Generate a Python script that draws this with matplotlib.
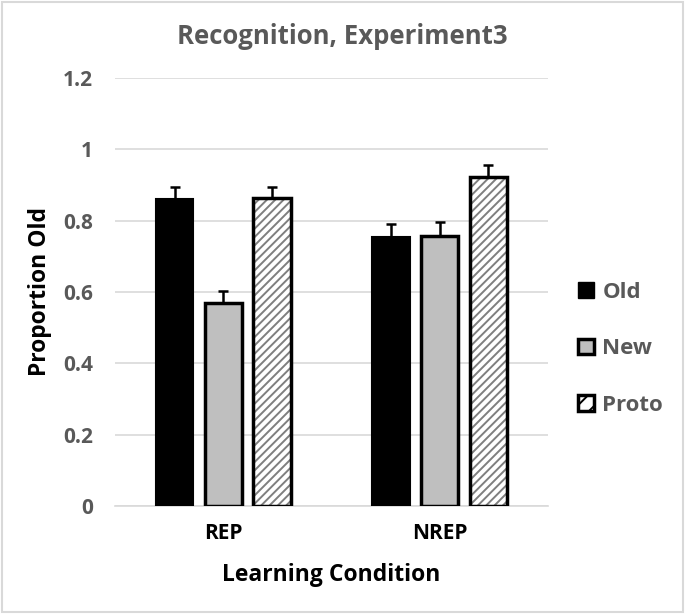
import numpy as np
import matplotlib
matplotlib.use("Agg")
import matplotlib.pyplot as plt
from matplotlib.patches import Patch, Rectangle

# datos
categorias = ["REP", "NREP"]
series = ["Old", "New", "Proto"]
old_vals = [0.861, 0.754]
new_vals = [0.569, 0.757]
proto_vals = [0.864, 0.922]
old_err = [0.033, 0.036]
new_err = [0.034, 0.038]
proto_err = [0.030, 0.034]

gris_txt = "#595959"
plt.rcParams['font.family'] = ['Open Sans', 'DejaVu Sans']
plt.rcParams['font.weight'] = 'bold'
plt.rcParams['hatch.linewidth'] = 1.4
plt.rcParams['hatch.color'] = '#7f7f7f'

fig = plt.figure(figsize=(6.85, 6.14), dpi=100)
ax = fig.add_axes([0.168, 0.176, 0.632, 0.697])

x = np.arange(len(categorias))
ancho = 0.172
paso = 0.225

# Old: barra negra
ax.bar(x - paso, old_vals, ancho, color='black', edgecolor='black', linewidth=1.5, zorder=3)
ax.errorbar(x - paso, old_vals, yerr=[np.zeros(2), old_err], fmt='none', ecolor='black',
            elinewidth=1.8, capsize=3.5, capthick=1.8, zorder=4)

# New: gris con borde negro
ax.bar(x, new_vals, ancho, color='#bfbfbf', edgecolor='black', linewidth=2.5, zorder=3)
ax.errorbar(x, new_vals, yerr=[np.zeros(2), new_err], fmt='none', ecolor='black',
            elinewidth=1.8, capsize=3.5, capthick=1.8, zorder=4)

# Proto: rayado gris, luego el borde negro encima
ax.bar(x + paso, proto_vals, ancho, color='white', edgecolor='#7f7f7f', hatch='////', linewidth=0, zorder=3)
ax.bar(x + paso, proto_vals, ancho, fill=False, edgecolor='black', linewidth=2.5, zorder=3)
ax.errorbar(x + paso, proto_vals, yerr=[np.zeros(2), proto_err], fmt='none', ecolor='black',
            elinewidth=1.8, capsize=3.5, capthick=1.8, zorder=4)

ax.set_ylim(0, 1.2)
ax.set_xlim(-0.5, 1.5)
ax.set_yticks([0, 0.2, 0.4, 0.6, 0.8, 1.0, 1.2])
ax.set_yticklabels(["0", "0.2", "0.4", "0.6", "0.8", "1", "1.2"])
ax.set_xticks(x)
ax.set_xticklabels(categorias)
ax.tick_params(axis='both', length=0)
ax.tick_params(axis='y', labelsize=15, labelcolor=gris_txt, pad=16)
ax.tick_params(axis='x', labelsize=15, labelcolor='black', pad=12)
ax.yaxis.grid(True, color='#d9d9d9', linewidth=1.2, zorder=0)
ax.set_axisbelow(True)
for s in ['top', 'right', 'left']:
    ax.spines[s].set_visible(False)
ax.spines['bottom'].set_color('#d9d9d9')
ax.spines['bottom'].set_linewidth(1.2)

ax.set_ylabel("Proportion Old", fontsize=16.5, fontweight='bold', va='center')
ax.yaxis.set_label_coords(-0.173, 0.5)
ax.set_xlabel("Learning Condition", fontsize=16.5, fontweight='bold', va='center')
ax.xaxis.set_label_coords(0.5, -0.161)

# titulo centrado en la figura
fig.text(0.5, 1 - 36 / 614, "Recognition, Experiment3", fontsize=18.5, color=gris_txt,
         fontweight='bold', ha='center', va='center')

# leyenda
manejadores = [
    Patch(facecolor='black', edgecolor='black', label=series[0]),
    Patch(facecolor='#bfbfbf', edgecolor='black', linewidth=2.5, label=series[1]),
    Patch(facecolor='white', edgecolor='black', linewidth=2.5, hatch='//', label=series[2]),
]
leg = fig.legend(handles=manejadores, loc='center left', bbox_to_anchor=(0.815, 0.432),
                 frameon=False, fontsize=16, handlelength=0.72, handleheight=0.72,
                 handletextpad=0.36, labelspacing=1.6)
for t in leg.get_texts():
    t.set_color(gris_txt)

# marco del grafico
fig.patches.append(Rectangle((0.003, 0.003), 0.994, 0.994, transform=fig.transFigure,
                             fill=False, edgecolor='#d9d9d9', linewidth=1.5))

plt.savefig("out.png", dpi=100)
plt.close()
